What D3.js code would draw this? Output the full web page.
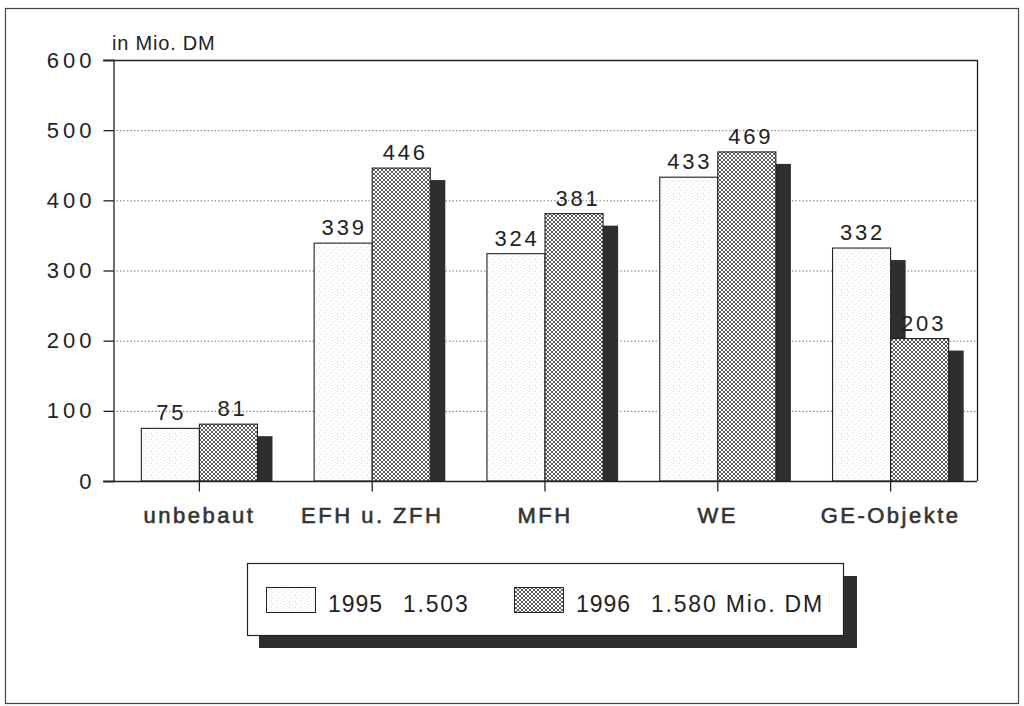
<!DOCTYPE html>
<html>
<head>
<meta charset="utf-8">
<script src="https://cdn.jsdelivr.net/npm/d3@7"></script>
<style>
  html, body { margin: 0; padding: 0; background: #fff; }
  svg { display: block; font-family: "Liberation Sans", Arial, sans-serif; }
</style>
</head>
<body>
<svg id="chart" width="1024" height="706"></svg>
<script>
// Volumes per property type, in Mio. DM
const categories = ["unbebaut", "EFH u. ZFH", "MFH", "WE", "GE-Objekte"];
const values1995 = [75, 339, 324, 433, 332];
const values1996 = [81, 446, 381, 469, 203];
const yTicks = [0, 100, 200, 300, 400, 500, 600];
const legendYears = ["1995", "1996"];
const legendTotals = ["1.503", "1.580 Mio. DM"];

const svg = d3.select("#chart");

// Fill patterns: fine stipple for 1995, cross-hatch for 1996
const defs = svg.append("defs");
const stip = defs.append("pattern").attr("id", "pat1995")
  .attr("patternUnits", "userSpaceOnUse").attr("width", 6).attr("height", 6);
stip.append("rect").attr("width", 6).attr("height", 6).attr("fill", "#fefefe");
[[1,1,"#d6d6d6"],[4,3,"#e4e4e4"],[2,4,"#dedede"],[5,0,"#eaeaea"]].forEach(([x,y,c]) =>
  stip.append("rect").attr("x", x).attr("y", y).attr("width", 1).attr("height", 1).attr("fill", c));

const hatch = defs.append("pattern").attr("id", "pat1996")
  .attr("patternUnits", "userSpaceOnUse").attr("width", 4).attr("height", 4);
hatch.append("rect").attr("width", 4).attr("height", 4).attr("fill", "#fff");
hatch.append("path").attr("d", "M0,0 L4,4 M4,0 L0,4")
  .attr("stroke", "#333").attr("stroke-width", 0.8);

const fills = { "1995": "url(#pat1995)", "1996": "url(#pat1996)" };

// Outer frame
svg.append("rect").attr("x", 5.5).attr("y", 8.5).attr("width", 1013).attr("height", 695)
  .attr("fill", "none").attr("stroke", "#444").attr("stroke-width", 1.2);

// Scales
const x = d3.scaleBand().domain(categories).range([113, 977]).padding(0);
const y = d3.scaleLinear().domain([0, 600]).range([481, 60]);
const step = x.bandwidth();
const barW = step * 0.336;
const shadowW = step * 0.087;
const shadowDrop = 12;

// Dotted gridlines
svg.append("g").selectAll("line").data(yTicks.filter(t => t > 0 && t < 600)).join("line")
  .attr("x1", 113).attr("x2", 977)
  .attr("y1", d => y(d) + 0.5).attr("y2", d => y(d) + 0.5)
  .attr("stroke", "#777").attr("stroke-width", 1).attr("stroke-dasharray", "1.5,2");

// Plot frame: top and right
svg.append("line").attr("x1", 103).attr("x2", 977.5).attr("y1", y(600) + 0.5).attr("y2", y(600) + 0.5)
  .attr("stroke", "#222").attr("stroke-width", 1.3);
svg.append("line").attr("x1", 977.5).attr("x2", 977.5).attr("y1", y(600)).attr("y2", y(0))
  .attr("stroke", "#222").attr("stroke-width", 1.3);

const labelStyle = sel => sel.attr("text-anchor", "middle").attr("font-size", 22)
  .attr("letter-spacing", 2.8).attr("fill", "#222");

// Bars with drop shadows
const groups = svg.append("g").selectAll("g").data(categories).join("g");
groups.each(function(c, i) {
  const g = d3.select(this);
  const cx = x(c) + step / 2;
  const v1 = values1995[i], v2 = values1996[i];
  // shadow of 1995 bar (mostly hidden behind the 1996 bar)
  g.append("rect").attr("x", cx).attr("y", y(v1) + shadowDrop)
    .attr("width", shadowW).attr("height", y(0) - y(v1) - shadowDrop).attr("fill", "#2e2e2e");
  g.append("rect").attr("x", cx - barW).attr("y", y(v1))
    .attr("width", barW).attr("height", y(0) - y(v1))
    .attr("fill", fills["1995"]).attr("stroke", "#222").attr("stroke-width", 1.1);
  g.append("rect").attr("x", cx + barW).attr("y", y(v2) + shadowDrop)
    .attr("width", shadowW).attr("height", y(0) - y(v2) - shadowDrop).attr("fill", "#2e2e2e");
  g.append("rect").attr("x", cx).attr("y", y(v2))
    .attr("width", barW).attr("height", y(0) - y(v2))
    .attr("fill", fills["1996"]).attr("stroke", "#222").attr("stroke-width", 1.1);
  // value labels
  g.append("text").attr("x", cx - barW / 2 + 1).attr("y", y(v1) - 8).call(labelStyle).text(v1);
  g.append("text").attr("x", cx + barW / 2 + 4).attr("y", y(v2) - 8).call(labelStyle).text(v2);
});

// Y axis
const yAxis = svg.append("g").attr("transform", "translate(113.5,0)")
  .call(d3.axisLeft(y).tickValues(yTicks).tickSize(10).tickPadding(8).tickFormat(d3.format("d")));
yAxis.select(".domain").attr("stroke", "#222").attr("stroke-width", 1.3);
yAxis.selectAll(".tick line").attr("stroke", "#222").attr("stroke-width", 1.3);
yAxis.selectAll(".tick text").attr("font-size", 22).attr("letter-spacing", 4)
  .attr("fill", "#222").attr("font-family", "Liberation Sans, Arial, sans-serif");

// X axis
const xAxis = svg.append("g").attr("transform", `translate(0,${y(0) + 0.5})`)
  .call(d3.axisBottom(x).tickSize(10).tickPadding(16).tickSizeOuter(0));
xAxis.select(".domain").attr("stroke", "#222").attr("stroke-width", 1.3)
  .attr("d", `M103,0H977`);
xAxis.selectAll(".tick line").attr("stroke", "#222").attr("stroke-width", 1.3);
xAxis.selectAll(".tick text").attr("font-size", 22).attr("letter-spacing", 2.5)
  .attr("fill", "#333").attr("stroke", "#333").attr("stroke-width", 0.6)
  .attr("font-family", "Liberation Sans, Arial, sans-serif");

// Unit label
svg.append("text").attr("x", 112).attr("y", 50).attr("font-size", 20).attr("letter-spacing", 0.8)
  .attr("fill", "#222").text("in Mio. DM");

// Legend with drop shadow
const lg = svg.append("g");
lg.append("rect").attr("x", 259).attr("y", 576).attr("width", 598).attr("height", 72).attr("fill", "#2e2e2e");
lg.append("rect").attr("x", 247.5).attr("y", 563.5).attr("width", 596).attr("height", 72)
  .attr("fill", "#fff").attr("stroke", "#222").attr("stroke-width", 1.2);
const swatchX = [266, 514];
legendYears.forEach((yr, i) => {
  lg.append("rect").attr("x", swatchX[i] + 0.5).attr("y", 587.5).attr("width", 49).attr("height", 25)
    .attr("fill", fills[yr]).attr("stroke", "#222").attr("stroke-width", 1);
  const t = lg.append("text").attr("y", 612).attr("font-size", 23).attr("fill", "#222");
  t.append("tspan").attr("x", swatchX[i] + 62).attr("letter-spacing", 1).text(yr);
  t.append("tspan").attr("x", swatchX[i] + 137).attr("letter-spacing", 1.8).text(legendTotals[i]);
});
</script>
</body>
</html>
